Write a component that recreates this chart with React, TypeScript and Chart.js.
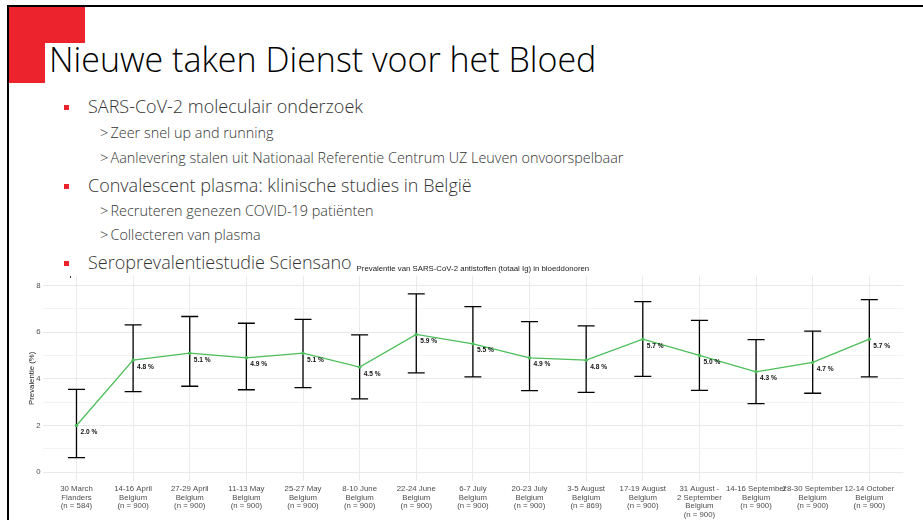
import React, { useEffect, useRef } from 'react';
import { Chart, registerables } from 'chart.js';

Chart.register(...registerables);

const categories: string[][] = [
  ['30 March', 'Flanders', '(n = 584)'],
  ['14-16 April', 'Belgium', '(n = 900)'],
  ['27-29 April', 'Belgium', '(n = 900)'],
  ['11-13 May', 'Belgium', '(n = 900)'],
  ['25-27 May', 'Belgium', '(n = 900)'],
  ['8-10 June', 'Belgium', '(n = 900)'],
  ['22-24 June', 'Belgium', '(n = 900)'],
  ['6-7 July', 'Belgium', '(n = 900)'],
  ['20-23 July', 'Belgium', '(n = 900)'],
  ['3-5 August', 'Belgium', '(n = 869)'],
  ['17-19 August', 'Belgium', '(n = 900)'],
  ['31 August -', '2 September', 'Belgium', '(n = 900)'],
  ['14-16 September', 'Belgium', '(n = 900)'],
  ['28-30 September', 'Belgium', '(n = 900)'],
  ['12-14 October', 'Belgium', '(n = 900)'],
];
const prevalence = [2.0, 4.8, 5.1, 4.9, 5.1, 4.5, 5.9, 5.5, 4.9, 4.8, 5.7, 5.0, 4.3, 4.7, 5.7];
const lowerCI = [0.62, 3.45, 3.68, 3.53, 3.62, 3.14, 4.25, 4.08, 3.49, 3.42, 4.1, 3.5, 2.94, 3.38, 4.08];
const upperCI = [3.55, 6.31, 6.67, 6.38, 6.55, 5.88, 7.64, 7.09, 6.45, 6.27, 7.31, 6.5, 5.68, 6.04, 7.39];
const yTickValues = [0, 1, 2, 3, 4, 5, 6, 7, 8];

const chartTitle = 'Prevalentie van SARS-CoV-2 antistoffen (totaal Ig) in bloeddonoren';
const yTitle = 'Prevalentie (%)';

const slideTitle = 'Nieuwe taken Dienst voor het Bloed';
const bullets: { level: number; text: string }[] = [
  { level: 1, text: 'SARS-CoV-2 moleculair onderzoek' },
  { level: 2, text: 'Zeer snel up and running' },
  { level: 2, text: 'Aanlevering stalen uit Nationaal Referentie Centrum UZ Leuven onvoorspelbaar' },
  { level: 1, text: 'Convalescent plasma: klinische studies in België' },
  { level: 2, text: 'Recruteren genezen COVID-19 patiënten' },
  { level: 2, text: 'Collecteren van plasma' },
  { level: 1, text: 'Seroprevalentiestudie Sciensano' },
];
const bulletTops = [97.0, 125.7, 150.7, 176.1, 203.7, 227.7, 253.1];

const GREEN = '#4cbe5a';
const RED = '#ec232d';
const LABEL_FONT = 'Liberation Sans, Arial, sans-serif';
const SLIDE_FONT = '"Open Sans", "Noto Sans", sans-serif';

const errorBarsPlugin = {
  id: 'errorBars',
  beforeDatasetsDraw(chart: any) {
    const { ctx } = chart;
    const x = chart.scales.x;
    const y = chart.scales.y;
    ctx.save();
    ctx.strokeStyle = '#000';
    ctx.lineWidth = 1.3;
    lowerCI.forEach((lo, i) => {
      const cx = x.getPixelForValue(i);
      const hw = x.getPixelForValue(i + 0.15) - cx;
      const yl = y.getPixelForValue(lo);
      const yu = y.getPixelForValue(upperCI[i]);
      ctx.beginPath();
      ctx.moveTo(cx, yl);
      ctx.lineTo(cx, yu);
      ctx.moveTo(cx - hw, yl);
      ctx.lineTo(cx + hw, yl);
      ctx.moveTo(cx - hw, yu);
      ctx.lineTo(cx + hw, yu);
      ctx.stroke();
    });
    ctx.restore();
  },
};

const valueLabelsPlugin = {
  id: 'valueLabels',
  afterDatasetsDraw(chart: any) {
    const { ctx } = chart;
    const meta = chart.getDatasetMeta(0);
    ctx.save();
    ctx.fillStyle = '#111';
    ctx.font = `bold 6.6px ${LABEL_FONT}`;
    ctx.textAlign = 'left';
    ctx.textBaseline = 'middle';
    meta.data.forEach((pt: any, i: number) => {
      ctx.fillText(`${prevalence[i].toFixed(1)} %`, pt.x + 4, pt.y + 6.7);
    });
    ctx.restore();
  },
};

function SeroChart() {
  const ref = useRef<HTMLCanvasElement | null>(null);
  useEffect(() => {
    if (!ref.current) return;
    const chart = new Chart(ref.current, {
      type: 'line',
      data: {
        datasets: [
          {
            data: prevalence.map((v, i) => ({ x: i, y: v })),
            borderColor: GREEN,
            backgroundColor: GREEN,
            borderWidth: 1.3,
            pointRadius: 1.7,
            pointBorderWidth: 0,
            tension: 0,
          },
        ],
      },
      options: {
        animation: false,
        responsive: false,
        devicePixelRatio: 1,
        layout: { padding: { left: 0, right: 19.7, top: 0, bottom: 0 } },
        plugins: {
          legend: { display: false },
          tooltip: { enabled: false },
          title: {
            display: true,
            text: chartTitle,
            fullSize: false,
            color: '#1a1a1a',
            font: { family: LABEL_FONT, size: 7.8, weight: 'normal', lineHeight: 1.2 },
            padding: { top: 6.3, bottom: 2.0 },
          },
        },
        scales: {
          x: {
            type: 'linear',
            min: -0.6,
            max: 14.6,
            afterBuildTicks: (axis: any) => {
              axis.ticks = categories.map((_, i) => ({ value: i }));
            },
            afterFit: (s: any) => {
              s.height = 39;
            },
            grid: { color: '#ebebeb', lineWidth: 1, drawTicks: false },
            border: { display: false },
            ticks: {
              autoSkip: false,
              maxRotation: 0,
              minRotation: 0,
              padding: 3.4,
              color: '#4d4d4d',
              font: { family: LABEL_FONT, size: 7.8, lineHeight: 1.115 },
              callback: (_v: any, index: number) => categories[index],
            },
          },
          y: {
            type: 'linear',
            min: -0.38,
            max: 8.42,
            afterBuildTicks: (axis: any) => {
              axis.ticks = yTickValues.map((v) => ({ value: v }));
            },
            afterFit: (s: any) => {
              s.width = 42.5;
            },
            grid: {
              color: (c: any) => (c.tick && c.tick.value % 2 === 0 ? '#e9e9e9' : '#f3f3f3'),
              lineWidth: 1,
              drawTicks: false,
            },
            border: { display: false },
            title: {
              display: true,
              text: yTitle,
              color: '#1a1a1a',
              font: { family: LABEL_FONT, size: 7.8, weight: 'normal', lineHeight: 1.2 },
              padding: { top: 27.5, bottom: 0 },
            },
            ticks: {
              padding: 2,
              color: '#4d4d4d',
              font: { family: LABEL_FONT, size: 7.8 },
              callback: (v: any) => (Number(v) % 2 === 0 ? String(v) : ''),
            },
          },
        },
      },
      plugins: [errorBarsPlugin, valueLabelsPlugin],
    } as any);
    return () => chart.destroy();
  }, []);
  return (
    <canvas
      ref={ref}
      width={923}
      height={262}
      style={{ position: 'absolute', left: 0, top: 258, width: 923, height: 262 }}
    />
  );
}

export default function App() {
  return (
    <div
      style={{
        position: 'fixed',
        left: 0,
        top: 0,
        width: 923,
        height: 520,
        background: '#fff',
        overflow: 'hidden',
        fontFamily: SLIDE_FONT,
      }}
    >
      <div style={{ position: 'absolute', left: 7, top: 5, width: 916, height: 2, background: '#000' }} />
      <div style={{ position: 'absolute', left: 7, top: 5, width: 2, height: 515, background: '#000' }} />
      <div style={{ position: 'absolute', left: 9, top: 7, width: 76, height: 36, background: RED }} />
      <div style={{ position: 'absolute', left: 9, top: 43, width: 36, height: 40, background: RED }} />
      <div
        style={{
          position: 'absolute',
          left: 49,
          top: 41.8,
          fontSize: 34,
          lineHeight: '34px',
          fontWeight: 300,
          color: '#000',
          whiteSpace: 'nowrap',
        }}
      >
        {slideTitle}
      </div>
      {bullets.map((b, i) => (
        <div
          key={i}
          style={{
            position: 'absolute',
            left: b.level === 1 ? 88 : 110.5,
            top: bulletTops[i],
            fontSize: b.level === 1 ? 18 : 14.4,
            lineHeight: b.level === 1 ? '18px' : '14.4px',
            fontWeight: 300,
            color: '#333',
            whiteSpace: 'nowrap',
          }}
        >
          {b.level === 1 ? (
            <span
              style={{
                position: 'absolute',
                left: -24,
                top: 8,
                width: 5,
                height: 5,
                background: RED,
              }}
            />
          ) : (
            <span style={{ position: 'absolute', left: -10.5, top: 0 }}>&gt;</span>
          )}
          {b.text}
        </div>
      ))}
      <div style={{ position: 'absolute', left: 70, top: 276, width: 1, height: 2, background: '#333' }} />
      <SeroChart />
    </div>
  );
}
